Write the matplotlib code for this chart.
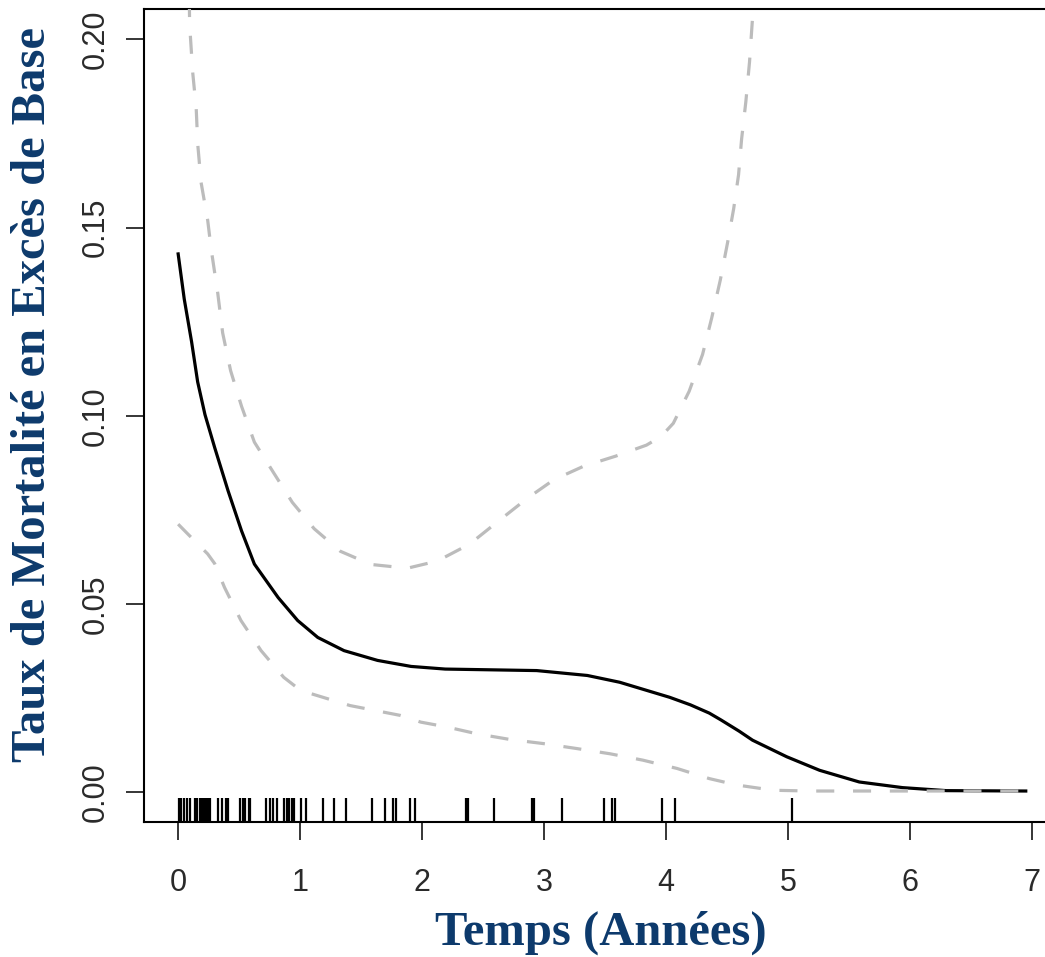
import matplotlib
matplotlib.use("Agg")
import matplotlib.pyplot as plt

# taux estime (ligne noire)
temps = [0, 0.05, 0.11, 0.16, 0.22, 0.30, 0.41, 0.52, 0.625, 0.82, 0.98, 1.145, 1.36,
         1.635, 1.91, 2.19, 2.94, 3.355, 3.62, 4.03, 4.2, 4.355, 4.45, 4.6, 4.71, 4.99,
         5.26, 5.585, 5.94, 6.3, 6.95]
taux = [0.143, 0.131, 0.1197, 0.109, 0.1003, 0.0915, 0.080, 0.0694, 0.0606, 0.0517,
        0.0456, 0.0411, 0.0376, 0.035, 0.0334, 0.0327, 0.0323, 0.031, 0.0292, 0.0252,
        0.0232, 0.021, 0.0192, 0.0162, 0.0138, 0.0094, 0.0058, 0.0027, 0.0012, 0.0004,
        0.0003]

# borne superieure de l'IC
temps_sup = [0.088, 0.094, 0.12, 0.148, 0.161, 0.188, 0.242, 0.272, 0.325, 0.365, 0.43,
             0.52, 0.625, 0.78, 0.936, 1.115, 1.33, 1.58, 1.88, 2.125, 2.39, 2.61, 2.86,
             3.08, 3.325, 3.59, 3.84, 3.96, 4.06, 4.19, 4.30, 4.375, 4.445, 4.505, 4.555,
             4.595, 4.62, 4.655, 4.685, 4.705, 4.73]
taux_sup = [0.22, 0.204, 0.191, 0.1817, 0.172, 0.162, 0.152, 0.144, 0.1325, 0.122, 0.112,
            0.1025, 0.093, 0.085, 0.077, 0.070, 0.064, 0.0605, 0.0595, 0.0614, 0.0659,
            0.0716, 0.078, 0.083, 0.0866, 0.0893, 0.0922, 0.0945, 0.098, 0.1065, 0.1163,
            0.126, 0.136, 0.146, 0.155, 0.164, 0.1735, 0.1835, 0.194, 0.2035, 0.215]

# borne inferieure de l'IC
temps_inf = [0, 0.079, 0.242, 0.30, 0.38, 0.515, 0.68, 0.866, 1.005, 1.41, 1.82, 1.99,
             2.205, 2.45, 2.72, 2.995, 3.265, 3.54, 3.81, 4.09, 4.355, 4.58, 4.88, 5.18,
             6.0, 6.95]
taux_inf = [0.0712, 0.0686, 0.0633, 0.0607, 0.0544, 0.0456, 0.0376, 0.0305, 0.027, 0.023,
            0.0204, 0.0186, 0.0173, 0.0155, 0.014, 0.0129, 0.0116, 0.0102, 0.0085, 0.0063,
            0.0036, 0.0019, 0.0005, 0.0003, 0.0003, 0.0003]

# temps observes (rug)
evenements = [0.005, 0.02, 0.046, 0.074, 0.10, 0.142, 0.156, 0.18, 0.19, 0.20, 0.21,
              0.22, 0.23, 0.24, 0.25, 0.26, 0.33, 0.36, 0.39, 0.41, 0.51, 0.53, 0.55,
              0.58, 0.59, 0.72, 0.75, 0.78, 0.81, 0.87, 0.89, 0.91, 0.93, 0.95, 1.01,
              1.05, 1.19, 1.28, 1.38, 1.59, 1.70, 1.76, 1.79, 1.90, 1.94, 2.36, 2.38,
              2.59, 2.90, 2.92, 3.15, 3.49, 3.56, 3.58, 3.97, 4.07, 5.03]

xticks = [0, 1, 2, 3, 4, 5, 6, 7]
yticks = [0.00, 0.05, 0.10, 0.15, 0.20]
ylabels = ["0.00", "0.05", "0.10", "0.15", "0.20"]

plt.rcParams['lines.scale_dashes'] = False
bleu = '#0d3a6c'
gris = '#bcbcbc'

fig = plt.figure(figsize=(10.45, 9.57), dpi=100)
ax = fig.add_axes([0.1378, 0.1408, 0.8823, 0.8495])

ax.plot(temps, taux, color='black', lw=2.3, zorder=2)
ax.plot(temps_sup, taux_sup, color=gris, lw=2.3, dashes=(13, 13.5), zorder=3)
ax.plot(temps_inf, taux_inf, color=gris, lw=2.3, dashes=(13, 13.5), zorder=3)
ax.vlines(evenements, 0, 0.03, transform=ax.get_xaxis_transform(), color='black', lw=1.6)

ax.set_xlim(-0.28, 7.28)
ax.set_ylim(-0.008, 0.208)
ax.set_xticks(xticks)
ax.set_yticks(yticks)
ax.set_yticklabels(ylabels, rotation=90, va='center')

for s in ax.spines.values():
    s.set_linewidth(1.5)
ax.tick_params(length=13, width=1.1, color='black', labelsize=22, labelcolor='#2a2a2a')
ax.tick_params(axis='x', pad=20)
ax.tick_params(axis='y', pad=11)
for lab in ax.get_xticklabels() + ax.get_yticklabels():
    lab.set_family('Liberation Sans')

fig.text(33 / 1045, 1 - 395 / 957, "Taux de Mortalité en Excès de Base", rotation=90,
         ha='center', va='center', color=bleu, fontsize=35, fontweight='bold',
         family='Liberation Serif')
fig.text(601 / 1045, 1 - 933 / 957, "Temps (Années)", ha='center', va='center',
         color=bleu, fontsize=35, fontweight='bold', family='Liberation Serif')

fig.savefig("out.png", dpi=100)
